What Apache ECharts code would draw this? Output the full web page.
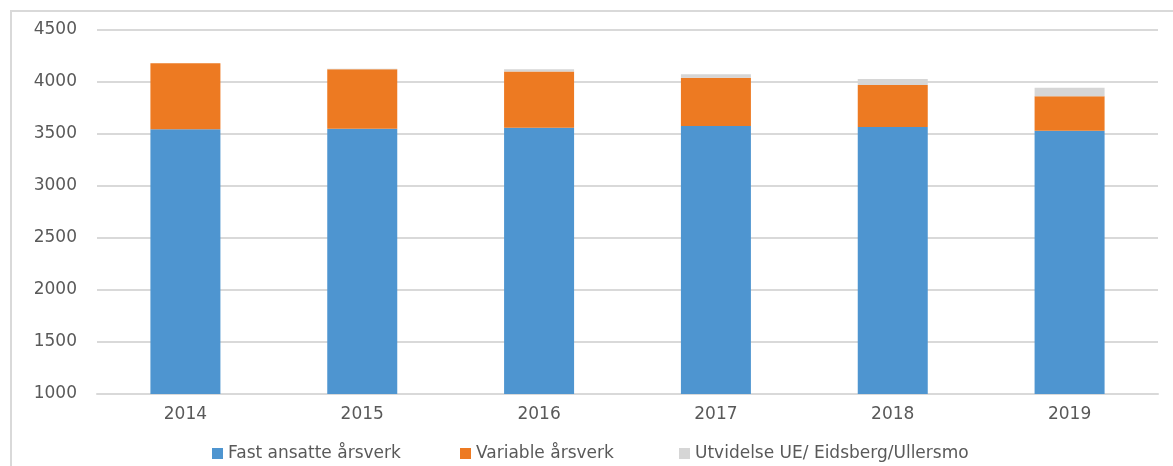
<!DOCTYPE html>
<html>
<head>
<meta charset="utf-8">
<script src="https://cdn.jsdelivr.net/npm/echarts@6/dist/echarts.min.js"></script>
<style>
html,body{margin:0;padding:0;background:#fff;}
#frame{position:absolute;left:10px;top:10px;width:1163px;height:456px;border-left:2px solid #d9d9d9;border-top:2px solid #d9d9d9;box-sizing:border-box;}
#chart{position:absolute;left:0;top:0;width:1173px;height:466px;}
</style>
</head>
<body>
<div id="frame"></div>
<div id="chart"></div>
<script>
const categories = ['2014', '2015', '2016', '2017', '2018', '2019'];
const fastAnsatte = [3545, 3550, 3560, 3577, 3567, 3532];
const variable = [635, 572, 540, 463, 403, 332];
const utvidelse = [0, 5, 23, 35, 60, 80];
const yTicks = [1000, 1500, 2000, 2500, 3000, 3500, 4000, 4500];
const seriesNames = ['Fast ansatte årsverk', 'Variable årsverk', 'Utvidelse UE/ Eidsberg/Ullersmo'];
const colors = ['#4e95d0', '#ed7a22', '#d6d6d6'];

const chart = echarts.init(document.getElementById('chart'), null, {renderer: 'canvas'});
const font = '"DejaVu Sans", "Liberation Sans", sans-serif';
const textColor = '#595959';
const mk = (name, data, color) => ({
  name: name, type: 'bar', stack: 'total', data: data, barWidth: 70,
  itemStyle: {color: color}
});
const legendLefts = [207, 455, 674];
const legends = seriesNames.map((n, i) => ({
  top: 440, left: legendLefts[i],
  itemWidth: 11, itemHeight: 11, itemGap: 0, icon: 'rect',
  textStyle: {fontSize: 17, color: textColor, fontFamily: font},
  data: [n]
}));
chart.setOption({
  animation: false,
  color: colors,
  textStyle: {fontFamily: font},
  grid: {left: 97, right: 15, top: 30, bottom: 72, containLabel: false},
  legend: legends,
  xAxis: {
    type: 'category', data: categories,
    axisLine: {lineStyle: {color: '#d9d9d9', width: 2}},
    axisTick: {show: false},
    axisLabel: {fontSize: 17, color: textColor, margin: 12, fontFamily: font}
  },
  yAxis: {
    type: 'value', min: yTicks[0], max: yTicks[yTicks.length - 1], interval: yTicks[1] - yTicks[0],
    axisLine: {show: false}, axisTick: {show: false},
    splitLine: {lineStyle: {color: '#d9d9d9', width: 2}},
    axisLabel: {fontSize: 17, color: textColor, margin: 20, fontFamily: font, formatter: v => String(v)}
  },
  series: [
    mk(seriesNames[0], fastAnsatte, colors[0]),
    mk(seriesNames[1], variable, colors[1]),
    mk(seriesNames[2], utvidelse, colors[2])
  ]
});
</script>
</body>
</html>
